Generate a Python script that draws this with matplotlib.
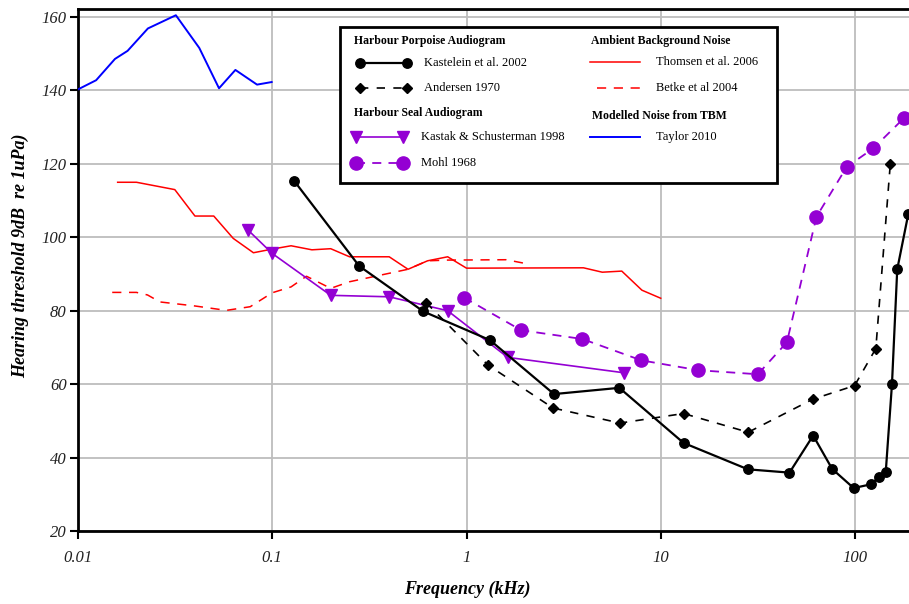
import numpy as np
import matplotlib
matplotlib.use("Agg")
import matplotlib.pyplot as plt
from matplotlib.lines import Line2D
from matplotlib.patches import Rectangle

plt.rcParams["font.family"] = ["Liberation Serif", "DejaVu Serif"]

# Harbour porpoise audiograms
kastelein_khz = [0.13, 0.28, 0.6, 1.32, 2.82, 6.12, 13.1, 28.1, 46.0, 60.9, 76.3,
                 98.4, 120.4, 133.0, 144.0, 155.0, 165.0, 188.0]
kastelein_db = [115.3, 92.2, 79.8, 72.0, 57.3, 59.0, 44.0, 36.8, 35.9, 46.0, 36.9,
                31.7, 32.7, 34.7, 36.1, 60.0, 91.3, 106.3]
andersen_khz = [0.62, 1.29, 2.79, 6.17, 13.1, 28.2, 60.6, 99.5, 128.0, 152.0]
andersen_db = [82.2, 65.2, 53.5, 49.4, 52.0, 46.9, 55.9, 59.6, 69.7, 120.1]

# Harbour seal audiograms
kastak_khz = [0.075, 0.1, 0.2, 0.4, 0.8, 1.63, 6.47]
kastak_db = [102.0, 95.6, 84.2, 83.8, 80.0, 67.3, 63.1]
mohl_khz = [0.97, 1.91, 3.95, 7.93, 15.6, 31.6, 44.6, 63.3, 90.7, 124.0, 178.0]
mohl_db = [83.6, 74.7, 72.3, 66.5, 63.8, 62.7, 71.4, 105.6, 119.2, 124.2, 132.4]

# Ambient background noise
thomsen_khz = [0.016, 0.02, 0.0315, 0.04, 0.05, 0.063, 0.08, 0.1, 0.125, 0.16, 0.2,
               0.25, 0.4, 0.5, 0.63, 0.8, 1.0, 4.0, 5.0, 6.3, 8.0, 10.0]
thomsen_db = [115.0, 115.0, 113.0, 105.8, 105.8, 99.7, 95.8, 96.8, 97.7, 96.6, 96.9,
              94.7, 94.7, 91.3, 93.6, 94.7, 91.6, 91.7, 90.5, 90.8, 85.6, 83.4]
betke_khz = [0.015, 0.02, 0.0228, 0.0264, 0.04, 0.058, 0.077, 0.1, 0.125, 0.15, 0.2,
             0.25, 0.5, 0.63, 0.8, 1.6, 2.0]
betke_db = [85.0, 85.0, 84.3, 82.4, 81.3, 80.1, 81.1, 84.9, 86.5, 89.4, 86.1,
            87.9, 91.3, 93.6, 93.8, 93.9, 92.9]

# Modelled noise from TBM
taylor_khz = [0.01, 0.0124, 0.0155, 0.018, 0.0229, 0.0319, 0.0421, 0.0532, 0.0646,
              0.0835, 0.0993]
taylor_db = [140.3, 142.8, 148.6, 150.8, 156.9, 160.5, 151.6, 140.6, 145.6, 141.6, 142.3]

x_ticks = [0.01, 0.1, 1, 10, 100]
x_tick_labels = ["0.01", "0.1", "1", "10", "100"]
y_ticks = [20, 40, 60, 80, 100, 120, 140, 160]

purple = "#9400d3"
W, H = 909, 604

fig = plt.figure(figsize=(W / 100, H / 100), dpi=100)
ax = fig.add_axes([78 / W, (H - 531) / H, 1 - 78 / W, (531 - 9) / H])

styles = {
    "kastelein": dict(color="k", lw=1.6, marker="o", ms=6.8),
    "andersen": dict(color="k", lw=1.2, ls=(0, (5, 5)), marker="D", ms=5.5),
    "kastak": dict(color=purple, lw=1.2, marker="v", ms=8),
    "mohl": dict(color=purple, lw=1.3, ls=(0, (5, 4)), marker="o", ms=9.5),
    "thomsen": dict(color="#ff0000", lw=1.1),
    "betke": dict(color="#ff0000", lw=1.1, ls=(0, (6, 5))),
    "taylor": dict(color="#0000ff", lw=1.4),
}

ax.plot(taylor_khz, taylor_db, **styles["taylor"], zorder=3)
ax.plot(thomsen_khz, thomsen_db, **styles["thomsen"], zorder=3)
ax.plot(betke_khz, betke_db, **styles["betke"], zorder=3)
ax.plot(kastak_khz, kastak_db, **styles["kastak"], zorder=4)
ax.plot(mohl_khz, mohl_db, **styles["mohl"], zorder=4)
ax.plot(andersen_khz, andersen_db, **styles["andersen"], zorder=5)
ax.plot(kastelein_khz, kastelein_db, **styles["kastelein"], zorder=5)

ax.set_xscale("log")
ax.set_xlim(0.01, 10 ** (2 + 54 / 194.25))
ax.set_ylim(20, 162.2)
ax.set_xticks(x_ticks, x_tick_labels)
ax.xaxis.set_minor_locator(matplotlib.ticker.NullLocator())
ax.set_yticks(y_ticks, [str(v) for v in y_ticks])
ax.grid(True, which="major", color="#bdbdbd", lw=1.3)
ax.set_axisbelow(True)
ax.spines["right"].set_visible(False)
for s in ["left", "bottom", "top"]:
    ax.spines[s].set_linewidth(2.0)
ax.tick_params(axis="x", direction="out", length=6, width=1.5, pad=8,
               labelsize=12)
ax.tick_params(axis="y", direction="out", length=6, width=1.5, pad=2,
               labelsize=12)
for lab in ax.get_xticklabels() + ax.get_yticklabels():
    lab.set_fontstyle("italic")
    lab.set_color("#222222")

ax.set_xlabel("Frequency (kHz)", fontsize=13, fontweight="bold", style="italic")
ax.xaxis.set_label_coords((467 - 78) / 831, (531 - 581) / 522)
ax.set_ylabel("Hearing threshold 9dB  re 1uPa)", fontsize=13, fontweight="bold",
              style="italic")
ax.yaxis.set_label_coords((29 - 78) / 831, (531 - 256) / 522)


# hand built legend box, positions in pixels
def fx(px):
    return px / W


def fy(py):
    return 1 - py / H


tf = fig.transFigure
fig.patches.append(Rectangle((fx(340), fy(183)), fx(777) - fx(340), fy(27) - fy(183),
                             transform=tf, facecolor="white", edgecolor="k",
                             lw=2.0, zorder=10))


def header(px, py, txt):
    fig.text(fx(px), fy(py), txt, fontsize=8.5, fontweight="bold", va="center",
             ha="left", zorder=11)


def entry(x0, x1, tx, py, txt, st):
    st = dict(st)
    marker = st.pop("marker", None)
    ms = st.pop("ms", None)
    fig.lines.append(Line2D([fx(x0), fx(x1)], [fy(py), fy(py)], transform=tf,
                            zorder=11, **st))
    if marker is not None:
        fig.lines.append(Line2D([fx(x0), fx(x1)], [fy(py), fy(py)], transform=tf,
                                ls="none", marker=marker, ms=ms, color=st["color"],
                                zorder=12))
    fig.text(fx(tx), fy(py), txt, fontsize=9, va="center", ha="left", zorder=11)


header(354, 41, "Harbour Porpoise Audiogram")
entry(360, 407, 424, 63, "Kastelein et al. 2002", styles["kastelein"])
entry(360, 407, 424, 88, "Andersen 1970", styles["andersen"])
header(354, 113, "Harbour Seal Audiogram")
entry(356, 403, 421, 137, "Kastak & Schusterman 1998", styles["kastak"])
entry(356, 403, 421, 163, "Mohl 1968", styles["mohl"])
header(591, 41, "Ambient Background Noise")
entry(590, 640, 656, 62, "Thomsen et al. 2006", styles["thomsen"])
entry(597, 640, 656, 88, "Betke et al 2004", styles["betke"])
header(592, 116, "Modelled Noise from TBM")
entry(590, 640, 656, 137, "Taylor 2010", styles["taylor"])

fig.savefig("out.png", dpi=100)
